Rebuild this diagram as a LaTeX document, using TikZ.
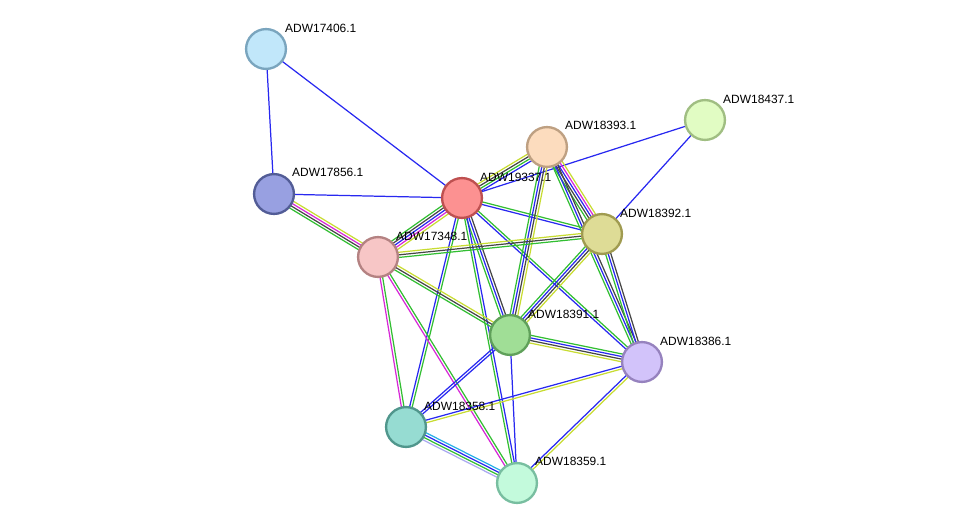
\documentclass[tikz,border=0pt]{standalone}
\usepackage{fontspec}
\setsansfont{Liberation Sans}
\usetikzlibrary{calc,backgrounds}
\definecolor{egreen}{RGB}{50,190,50}
\definecolor{eblue}{RGB}{40,40,240}
\definecolor{eblack}{RGB}{70,70,70}
\definecolor{emag}{RGB}{215,40,215}
\definecolor{eyel}{RGB}{200,220,50}
\definecolor{ecyan}{RGB}{40,175,230}
\definecolor{elav}{RGB}{170,170,240}
\newcommand{\link}[3]{%
  \foreach \c [count=\n] in {#3} {\xdef\nlinks{\n}}
  \foreach \c [count=\i] in {#3} {
    \pgfmathsetmacro\off{(\i-(\nlinks+1)/2)*2.2}
    \draw[evidence, \c] ($(#1)!\off pt!90:(#2)$) -- ($(#2)!\off pt!-90:(#1)$);
  }}
\tikzset{
  prot/.style={circle, minimum size=34pt, inner sep=0pt, line width=2pt},
  evidence/.style={line width=1.05pt},
  lbl/.style={font=\sffamily\fontsize{10.2}{12}\selectfont, anchor=west, inner sep=0pt}
}
\begin{document}
\begin{tikzpicture}[x=0.03cm, y=-0.03cm]
  \useasboundingbox (0,0) rectangle (976,528);
  \node[prot, fill={rgb,255:red,193;green,231;blue,250}, draw={rgb,255:red,122;green,165;blue,190}] (p17406) at (266,49) {};
  \node[prot, fill={rgb,255:red,152;green,160;blue,225}, draw={rgb,255:red,82;green,92;blue,150}] (p17856) at (274,194) {};
  \node[prot, fill={rgb,255:red,252;green,145;blue,145}, draw={rgb,255:red,190;green,80;blue,80}] (p19337) at (462,198) {};
  \node[prot, fill={rgb,255:red,247;green,198;blue,198}, draw={rgb,255:red,180;green,130;blue,130}] (p17348) at (378,257) {};
  \node[prot, fill={rgb,255:red,252;green,220;blue,190}, draw={rgb,255:red,190;green,160;blue,130}] (p18393) at (547,147) {};
  \node[prot, fill={rgb,255:red,225;green,252;blue,195}, draw={rgb,255:red,160;green,190;blue,130}] (p18437) at (705,120) {};
  \node[prot, fill={rgb,255:red,222;green,220;blue,150}, draw={rgb,255:red,160;green,155;blue,80}] (p18392) at (602,234) {};
  \node[prot, fill={rgb,255:red,160;green,222;blue,150}, draw={rgb,255:red,95;green,160;blue,90}] (p18391) at (510,335) {};
  \node[prot, fill={rgb,255:red,210;green,195;blue,250}, draw={rgb,255:red,150;green,130;blue,190}] (p18386) at (642,362) {};
  \node[prot, fill={rgb,255:red,150;green,220;blue,210}, draw={rgb,255:red,80;green,150;blue,140}] (p18358) at (406,427) {};
  \node[prot, fill={rgb,255:red,195;green,250;blue,220}, draw={rgb,255:red,120;green,190;blue,160}] (p18359) at (517,483) {};
  \begin{pgfonlayer}{background}
    \link{p17406}{p17856}{eblue}
    \link{p17406}{p19337}{eblue}
    \link{p17856}{p19337}{eblue}
    \link{p17856}{p17348}{egreen,eblack,emag,eyel}
    \link{p19337}{p17348}{egreen,eblack,eblue,emag,eyel}
    \link{p19337}{p18393}{eblue,egreen,eblack,eyel}
    \link{p19337}{p18437}{eblue}
    \link{p19337}{p18392}{eblue,egreen}
    \link{p19337}{p18391}{egreen,eblue,eblack}
    \link{p19337}{p18386}{eblue,egreen}
    \link{p19337}{p18358}{eblue,egreen}
    \link{p19337}{p18359}{egreen,eblue}
    \link{p18437}{p18392}{eblue}
    \link{p18393}{p18392}{egreen,eblack,eblue,emag,eyel}
    \link{p18393}{p18391}{egreen,eblue,eblack,eyel}
    \link{p18393}{p18386}{egreen,eblue,eblack}
    \link{p17348}{p18392}{egreen,eblack,eyel}
    \link{p17348}{p18391}{egreen,eblack,eyel}
    \link{p17348}{p18358}{emag,egreen}
    \link{p17348}{p18359}{emag,egreen}
    \link{p18392}{p18391}{egreen,eblue,eblack,eyel}
    \link{p18392}{p18386}{egreen,eblue,eblack}
    \link{p18391}{p18386}{eyel,eblack,eblue,egreen}
    \link{p18391}{p18358}{eblue,eblue}
    \link{p18391}{p18359}{eblue}
    \link{p18386}{p18358}{eblue,eyel}
    \link{p18386}{p18359}{eblue,eyel}
    \link{p18358}{p18359}{elav,egreen,eblue,ecyan}
  \end{pgfonlayer}
  \node[lbl] (l17406) at ($(p17406)+(19,-21)$) {ADW17406.1};
  \node[lbl] (l17856) at ($(p17856)+(18,-22)$) {ADW17856.1};
  \node[lbl] (l19337) at ($(p19337)+(18,-21)$) {ADW19337.1};
  \node[lbl] (l17348) at ($(p17348)+(18,-21)$) {ADW17348.1};
  \node[lbl] (l18393) at ($(p18393)+(18,-22)$) {ADW18393.1};
  \node[lbl] (l18437) at ($(p18437)+(18,-21)$) {ADW18437.1};
  \node[lbl] (l18392) at ($(p18392)+(18,-21)$) {ADW18392.1};
  \node[lbl] (l18391) at ($(p18391)+(18,-21)$) {ADW18391.1};
  \node[lbl] (l18386) at ($(p18386)+(18,-21)$) {ADW18386.1};
  \node[lbl] (l18358) at ($(p18358)+(18,-21)$) {ADW18358.1};
  \node[lbl] (l18359) at ($(p18359)+(18,-22)$) {ADW18359.1};
\end{tikzpicture}
\end{document}
